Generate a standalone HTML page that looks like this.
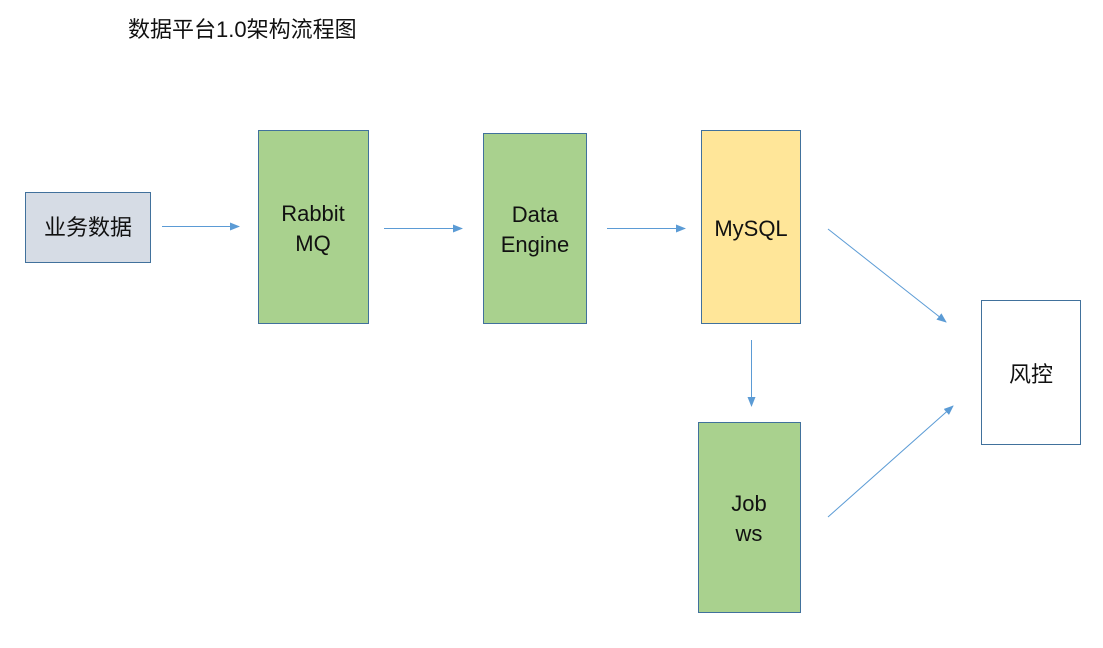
<!DOCTYPE html>
<html><head><meta charset="utf-8"><style>
html,body{margin:0;padding:0;background:#fff;}
svg{display:block;}
text{font-family:"Liberation Sans","Noto Sans CJK SC",sans-serif;fill:#111;}
</style></head><body>
<svg width="1103" height="648" viewBox="0 0 1103 648" xmlns="http://www.w3.org/2000/svg">
<defs>
<marker id="a" markerWidth="10" markerHeight="8" refX="9" refY="4" orient="auto" markerUnits="userSpaceOnUse">
<path d="M0,0 L10,4 L0,8 z" fill="#5b9bd5"/></marker>
</defs>
<text x="128" y="37" font-size="22">数据平台1.0架构流程图</text>
<g stroke="#41719c" stroke-width="1">
<rect x="25.5" y="192.5" width="125" height="70" fill="#d6dce5"/>
<rect x="258.5" y="130.5" width="110" height="193" fill="#a9d18e"/>
<rect x="483.5" y="133.5" width="103" height="190" fill="#a9d18e"/>
<rect x="701.5" y="130.5" width="99" height="193" fill="#ffe699"/>
<rect x="698.5" y="422.5" width="102" height="190" fill="#a9d18e"/>
<rect x="981.5" y="300.5" width="99" height="144" fill="#fff"/>
</g>
<g stroke="#5b9bd5" stroke-width="1" marker-end="url(#a)" fill="none">
<line x1="162" y1="226.5" x2="239" y2="226.5"/>
<line x1="384" y1="228.5" x2="462" y2="228.5"/>
<line x1="607" y1="228.5" x2="685" y2="228.5"/>
<line x1="751.5" y1="340" x2="751.5" y2="406"/>
<line x1="828" y1="229" x2="946" y2="322"/>
<line x1="828" y1="517" x2="953" y2="406"/>
</g>
<g font-size="22" text-anchor="middle">
<text x="88" y="235">业务数据</text>
<text x="313" y="221">Rabbit</text>
<text x="313" y="251">MQ</text>
<text x="535" y="222">Data</text>
<text x="535" y="252">Engine</text>
<text x="751" y="236">MySQL</text>
<text x="749" y="511">Job</text>
<text x="749" y="541">ws</text>
<text x="1031" y="382">风控</text>
</g>
</svg>
</body></html>
